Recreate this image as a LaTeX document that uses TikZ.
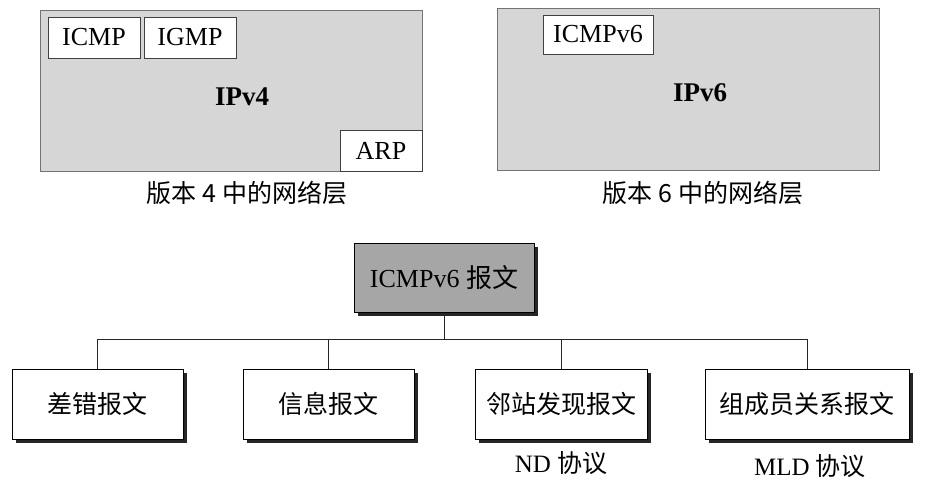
\documentclass[tikz,border=0pt]{standalone}
\usepackage{fontspec}
\setmainfont{Liberation Serif}
\newfontfamily\cjk{Noto Sans CJK SC}
\usetikzlibrary{shadows}
\begin{document}
\begin{tikzpicture}[x=1pt,y=-1pt,
  layer/.style={draw=black!55,line width=0.8pt,fill=black!16,inner sep=0pt},
  sub/.style={draw=black!75,line width=0.8pt,fill=white,inner sep=0pt,
    font=\fontsize{26}{28}\selectfont},
  boldtxt/.style={font=\fontsize{27}{29}\selectfont\bfseries},
  captxt/.style={font=\cjk\fontsize{25}{28}\selectfont},
  msg/.style={draw=black,line width=1pt,fill=white,minimum height=70pt,inner sep=0pt,
    font=\cjk\fontsize{25}{28}\selectfont,
    drop shadow={shadow xshift=3.5pt,shadow yshift=-3.5pt,fill=black,opacity=0.85}},
  root/.style={msg,fill=black!35,font=\fontsize{26}{28}\selectfont},
  proto/.style={font=\fontsize{25}{28}\selectfont},
  link/.style={line width=1pt,draw=black!85}]
\useasboundingbox (0,0) rectangle (926,481);
% --- IPv4 layer
\node[layer,minimum width=382pt,minimum height=161pt] (v4) at (231,90.5) {};
\node[sub,minimum width=92pt,minimum height=41pt] (icmp) at (94,37.5) {ICMP};
\node[sub,minimum width=92pt,minimum height=41pt] (igmp) at (190,37.5) {IGMP};
\node[sub,minimum width=82pt,minimum height=41pt,anchor=south east] (arp) at (v4.south east) {ARP};
\node[boldtxt] (v4t) at (242,97) {IPv4};
\node[captxt] (v4c) at (247,193) {版本 4 中的网络层};
% --- IPv6 layer
\node[layer,minimum width=382pt,minimum height=162pt] (v6) at (688,89) {};
\node[sub,minimum width=110pt,minimum height=39pt] (icmp6) at (598,34.5) {ICMPv6};
\node[boldtxt] (v6t) at (700,93) {IPv6};
\node[captxt] (v6c) at (703,193) {版本 6 中的网络层};
% --- ICMPv6 messages
\node[root,minimum width=180pt,minimum height=69pt] (top) at (444,277.5) {ICMPv6 {\cjk 报文}};
\node[msg,minimum width=171pt] (b1) at (97.5,404) {差错报文};
\node[msg,minimum width=171pt] (b2) at (328.5,404) {信息报文};
\node[msg,minimum width=172pt] (b3) at (561,404) {邻站发现报文};
\node[msg,minimum width=204pt] (b4) at (807,404) {组成员关系报文};
\node[proto] (nd) at (561,463) {ND {\cjk 协议}};
\node[proto] (mld) at (810,466) {MLD {\cjk 协议}};
\coordinate (busL) at (97.5,339);
\coordinate (busR) at (807,339);
\draw[link] (busL) -- (busR);
\draw[link] (top.south) -- (top.south |- busL);
\foreach \b in {b1,b2,b3,b4} \draw[link] (\b.north) -- (\b.north |- busL);
\end{tikzpicture}
\end{document}
